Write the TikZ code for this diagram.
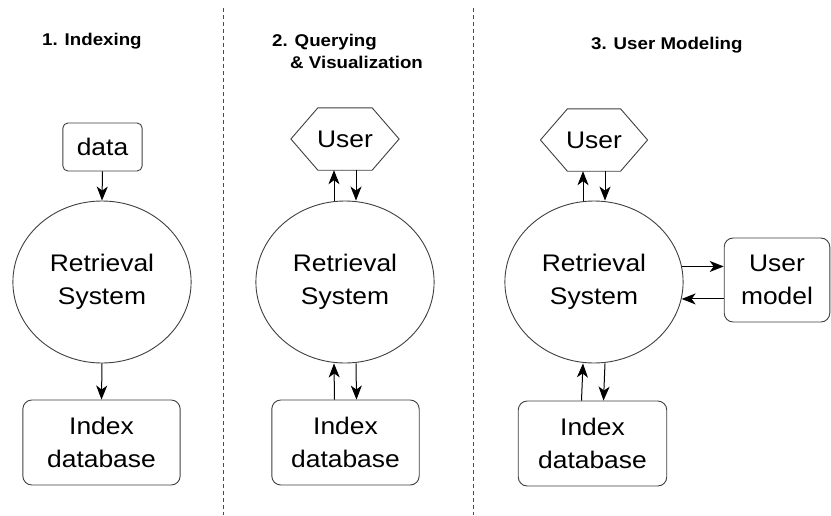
\documentclass[tikz,border=0pt]{standalone}
\usepackage{fontspec}
\setmainfont{Liberation Sans}
\usepackage{tikz}
\usetikzlibrary{shapes}
\usetikzlibrary{arrows.meta}

\tikzset{
  wide/.style={xscale=1.1},
  lbl/.style={wide,font=\fontsize{24}{33}\selectfont,align=center,inner sep=0pt},
  ttl/.style={wide,font=\bfseries\fontsize{17}{22}\selectfont,anchor=west,inner sep=0pt},
  outline/.style={draw=black!75,line width=0.9pt},
  rsys/.style={lbl,circle,outline,minimum size=162pt},
  dbox/.style={lbl,rectangle,outline,rounded corners=9pt},
  arr/.style={-{Stealth[length=14pt,width=11pt,inset=4pt]},line width=1pt},
  divider/.style={dash pattern=on 4pt off 3pt,line width=0.8pt,black!70}
}

\begin{document}
\begin{tikzpicture}[x=1pt,y=-1pt]
\useasboundingbox[fill=white] (0,0) rectangle (831,515);

% column separators
\draw[divider] (223,8)--(223,515);
\draw[divider] (473,8)--(473,515);

% headings
\node[ttl] (t1) at (42,41) {1. Indexing};
\node[ttl] (t2) at (272,42) {2. Querying};
\node[ttl] (t2b) at (290,62) {\& Visualization};
\node[ttl] (t3) at (591,45) {3. User Modeling};

% 1: indexing
\node[dbox,rounded corners=5pt,minimum width=72pt,minimum height=48pt] (data) at (102.5,147) {data};
\node[rsys] (rs1) at (102,282) {Retrieval\\System};
\node[dbox,minimum width=143pt,minimum height=85pt] (idx1) at (101.5,442.5) {Index\\database};
\draw[arr] (data.south)--(rs1.north);
\draw[arr] (rs1.south)--(idx1.north);

% 2: querying
\node[lbl,minimum width=98pt,minimum height=62pt] (user2) at (345,139) {User};
\draw[outline] (user2.west)--([xshift=27pt]user2.north west)--([xshift=-27pt]user2.north east)
  --(user2.east)--([xshift=-27pt]user2.south east)--([xshift=27pt]user2.south west)--cycle;
\node[rsys] (rs2) at (345,282) {Retrieval\\System};
\node[dbox,minimum width=134pt,minimum height=85pt] (idx2) at (345.5,442.5) {Index\\database};
\draw[arr] ([xshift=-11pt]rs2.north)--([xshift=-11pt]user2.south);
\draw[arr] ([xshift=11pt]user2.south)--([xshift=11pt]rs2.north);
\draw[arr] ([xshift=-11pt]idx2.north)--([xshift=-11pt]rs2.south);
\draw[arr] ([xshift=11pt]rs2.south)--([xshift=11pt]idx2.north);

% 3: user modeling
\node[lbl,minimum width=97pt,minimum height=62pt] (user3) at (594,140) {User};
\draw[outline] (user3.west)--([xshift=27pt]user3.north west)--([xshift=-27pt]user3.north east)
  --(user3.east)--([xshift=-27pt]user3.south east)--([xshift=27pt]user3.south west)--cycle;
\node[rsys] (rs3) at (594,282) {Retrieval\\System};
\node[dbox,minimum width=135pt,minimum height=85pt] (idx3) at (592.5,443.5) {Index\\database};
\node[dbox,minimum width=96pt,minimum height=84pt] (umodel) at (777,280) {User\\model};
\draw[arr] ([xshift=-11pt]rs3.north)--([xshift=-11pt]user3.south);
\draw[arr] ([xshift=11pt]user3.south)--([xshift=11pt]rs3.north);
\draw[arr] ([xshift=-11pt]idx3.north)--([xshift=-11pt]rs3.south);
\draw[arr] ([xshift=11pt]rs3.south)--([xshift=11pt]idx3.north);
\draw[arr] (rs3.11)--(rs3.11 -| umodel.west);
\draw[arr] (umodel.west |- rs3.-12)--(rs3.-12);
\end{tikzpicture}
\end{document}
